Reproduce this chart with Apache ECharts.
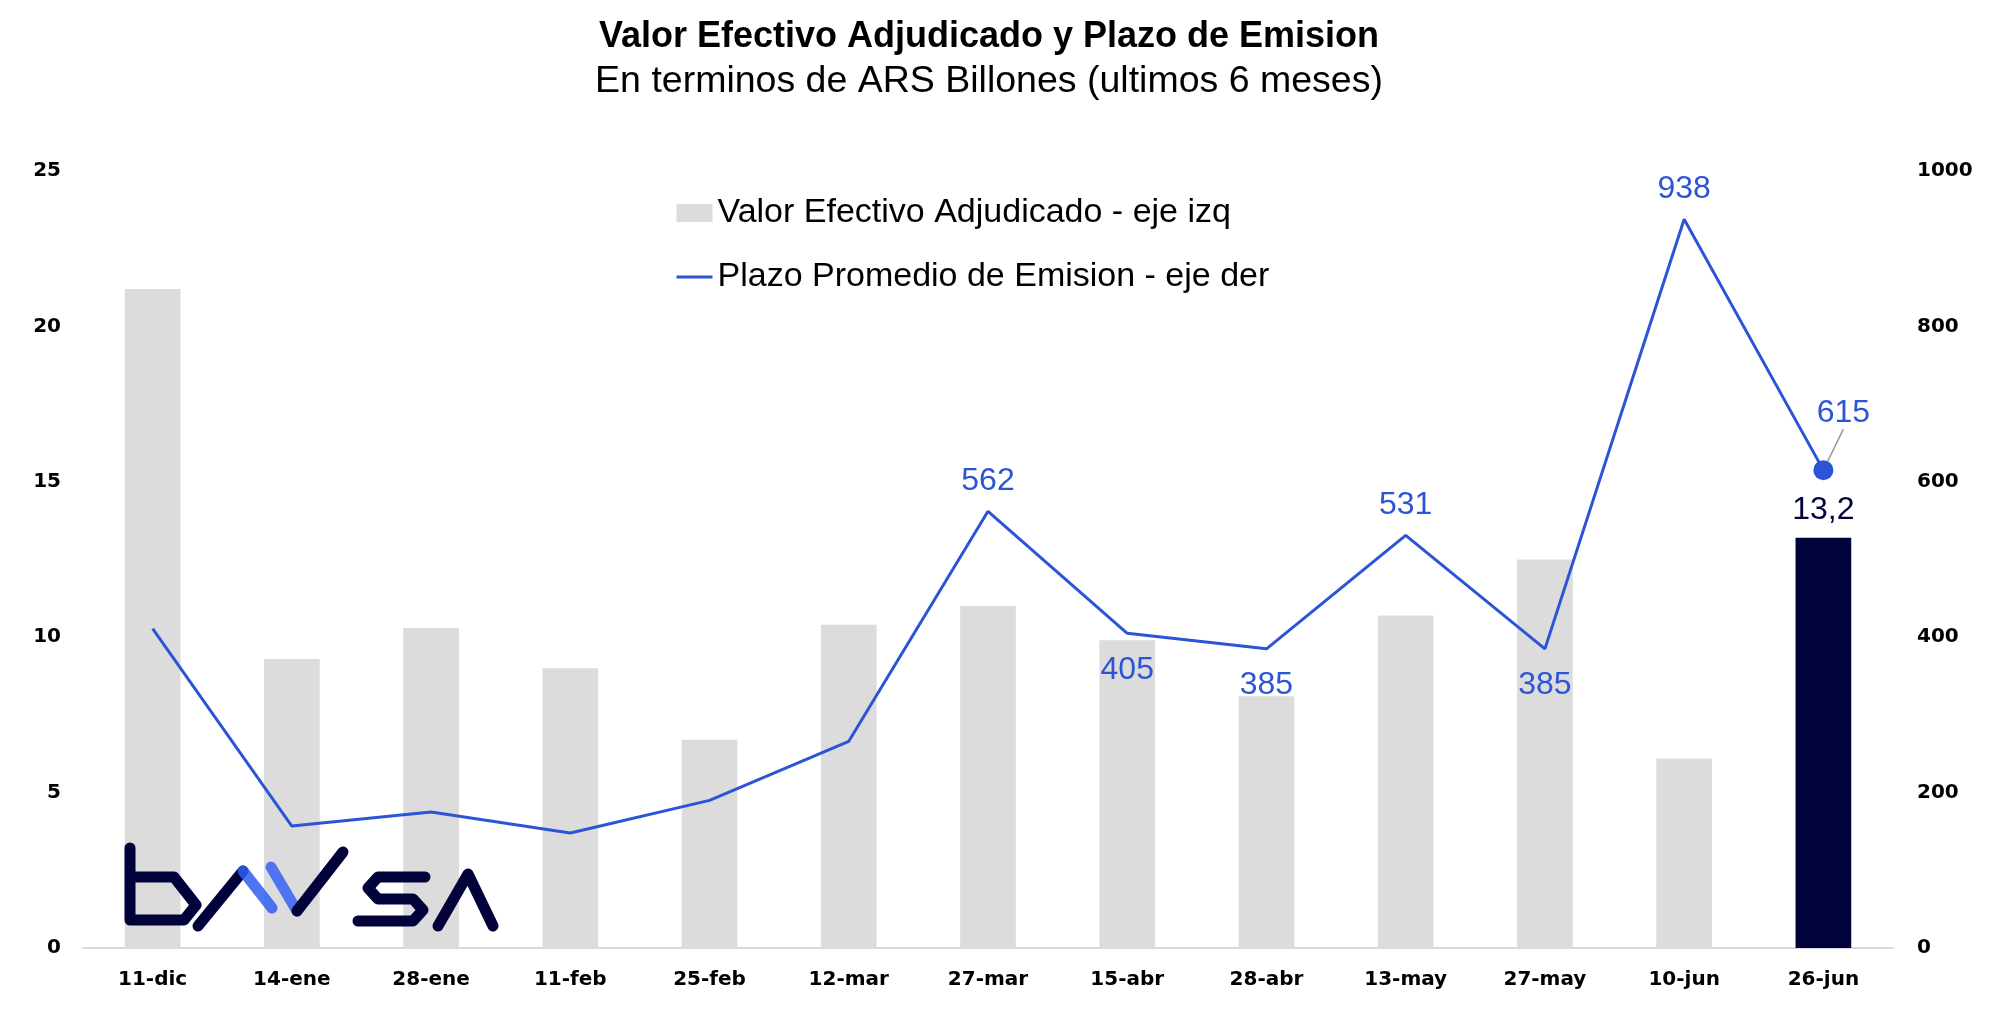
<!DOCTYPE html>
<html>
<head>
<meta charset="utf-8">
<title>Valor Efectivo Adjudicado y Plazo de Emision</title>
<script src="https://cdn.jsdelivr.net/npm/echarts@6/dist/echarts.min.js"></script>
<style>
  html, body { margin: 0; padding: 0; background: #fff; }
  #chart { width: 1998px; height: 1016px; }
</style>
</head>
<body>
<div id="chart"></div>
<script>
// data
const categories = ['11-dic', '14-ene', '28-ene', '11-feb', '25-feb', '12-mar', '27-mar', '15-abr', '28-abr', '13-may', '27-may', '10-jun', '26-jun']
const valorEfectivo = [21.2, 9.3, 10.3, 9.0, 6.7, 10.4, 11.0, 9.9, 8.1, 10.7, 12.5, 6.1, 13.2]
const plazoPromedio = [411, 157, 175, 148, 190, 266, 562, 405, 385, 531, 385, 938, 615]
const leftTicks = [0, 5, 10, 15, 20, 25]
const rightTicks = [0, 200, 400, 600, 800, 1000]

// which points get a label, and where
const labelAbove = ['27-mar', '13-may', '10-jun']
const labelBelow = ['15-abr', '28-abr', '27-may']
const lastCat = categories[categories.length - 1]

const blue = '#2b55d6'
const navy = '#01023a'
const grey = '#dcdcdc'
const font = 'Liberation Sans'
const tickFont = 'DejaVu Sans'

const chart = echarts.init(document.getElementById('chart'))

const barData = valorEfectivo.map((v, i) => {
  if (categories[i] !== lastCat) return v
  return {
    value: v,
    itemStyle: { color: navy },
    label: {
      show: true,
      position: 'top',
      distance: 12,
      color: navy,
      fontSize: 32,
      fontFamily: font,
      formatter: p => String(p.value).replace('.', ',')
    }
  }
})

// labelled points get a 1px symbol so the label has something to hang on
const lineData = plazoPromedio.map((v, i) => {
  const c = categories[i]
  if (labelAbove.includes(c)) {
    return { value: v, symbol: 'circle', symbolSize: 1, label: { show: true, position: 'top', distance: 14 } }
  }
  if (labelBelow.includes(c)) {
    return { value: v, symbol: 'circle', symbolSize: 1, label: { show: true, position: 'bottom', distance: 20 } }
  }
  if (c === lastCat) {
    return {
      value: v,
      symbol: 'circle',
      symbolSize: 20,
      label: { show: true, position: 'top', distance: 10 },
      labelLine: { show: true, lineStyle: { color: '#9a9a9a', width: 1.5 } }
    }
  }
  return v
})

const logoStyle = { stroke: navy, lineWidth: 11, fill: null, lineJoin: 'round', lineCap: 'round' }

const option = {
  animation: false,
  backgroundColor: '#ffffff',
  textStyle: { fontFamily: font },
  title: [
    {
      text: 'Valor Efectivo Adjudicado y Plazo de Emision',
      left: 984,
      top: 14,
      textAlign: 'center',
      textStyle: { fontSize: 36, fontWeight: 'bold', color: '#000', fontFamily: font }
    },
    {
      text: 'En terminos de ARS Billones (ultimos 6 meses)',
      left: 984,
      top: 58,
      textAlign: 'center',
      textStyle: { fontSize: 37.5, fontWeight: 'normal', color: '#000', fontFamily: font }
    }
  ],
  legend: {
    orient: 'vertical',
    left: 675,
    top: 193,
    padding: 0,
    itemWidth: 36,
    itemHeight: 18,
    itemGap: 24,
    textStyle: { fontSize: 34, color: '#000', fontFamily: font, lineHeight: 40 },
    data: [
      { name: 'Valor Efectivo Adjudicado - eje izq', icon: 'rect', itemStyle: { color: grey } },
      { name: 'Plazo Promedio de Emision - eje der', itemStyle: { opacity: 0 }, lineStyle: { width: 3, color: blue } }
    ]
  },
  grid: { left: 83, right: 105, top: 171, bottom: 68 },
  xAxis: {
    type: 'category',
    data: categories,
    axisTick: { show: false },
    axisLine: { lineStyle: { color: '#d9d9d9', width: 2 } },
    axisLabel: { color: '#000', fontSize: 20, fontWeight: 'bold', fontFamily: tickFont, margin: 22 }
  },
  yAxis: [
    {
      type: 'value',
      min: leftTicks[0],
      max: leftTicks[leftTicks.length - 1],
      interval: leftTicks[1] - leftTicks[0],
      splitLine: { show: false },
      axisLine: { show: false },
      axisLabel: { color: '#000', fontSize: 20, fontWeight: 'bold', fontFamily: tickFont, margin: 22 }
    },
    {
      type: 'value',
      min: rightTicks[0],
      max: rightTicks[rightTicks.length - 1],
      interval: rightTicks[1] - rightTicks[0],
      splitLine: { show: false },
      axisLine: { show: false },
      axisLabel: { color: '#000', fontSize: 20, fontWeight: 'bold', fontFamily: tickFont, margin: 24, formatter: v => String(v) }
    }
  ],
  series: [
    {
      name: 'Valor Efectivo Adjudicado - eje izq',
      type: 'bar',
      yAxisIndex: 0,
      barWidth: '40%',
      itemStyle: { color: grey },
      data: barData
    },
    {
      name: 'Plazo Promedio de Emision - eje der',
      type: 'line',
      yAxisIndex: 1,
      symbol: 'none',
      lineStyle: { color: blue, width: 3 },
      itemStyle: { color: blue },
      label: { color: blue, fontSize: 32, fontFamily: font },
      labelLayout: p => (p.dataIndex === categories.length - 1 ? { dx: 20, dy: -21 } : {}),
      data: lineData,
      z: 3
    }
  ],
  // bavsa logo, bottom left, drawn over the bars
  graphic: [
    { type: 'polyline', z: 100, shape: { points: [[130, 848], [130, 920], [184, 920], [196, 905], [174, 877], [130, 877]] }, style: logoStyle },
    { type: 'polyline', z: 100, shape: { points: [[198, 926], [243, 871]] }, style: logoStyle },
    { type: 'polyline', z: 100, shape: { points: [[243, 871], [272, 908]] },
      style: { stroke: '#2f5ef0', lineWidth: 11, lineCap: 'round', opacity: 0.85 } },
    { type: 'polyline', z: 100, shape: { points: [[271, 867], [297, 911]] },
      style: { stroke: '#3563f2', lineWidth: 11, lineCap: 'round', opacity: 0.85 } },
    { type: 'polyline', z: 100, shape: { points: [[297, 911], [343, 852]] }, style: logoStyle },
    { type: 'polyline', z: 100, shape: { points: [[425, 877], [378, 877], [368, 888], [378, 899], [413, 899], [423, 910], [413, 921], [358, 921]] }, style: logoStyle },
    { type: 'polyline', z: 100, shape: { points: [[438, 926], [468, 874], [493, 926]] }, style: logoStyle }
  ]
}

chart.setOption(option)
</script>
</body>
</html>
